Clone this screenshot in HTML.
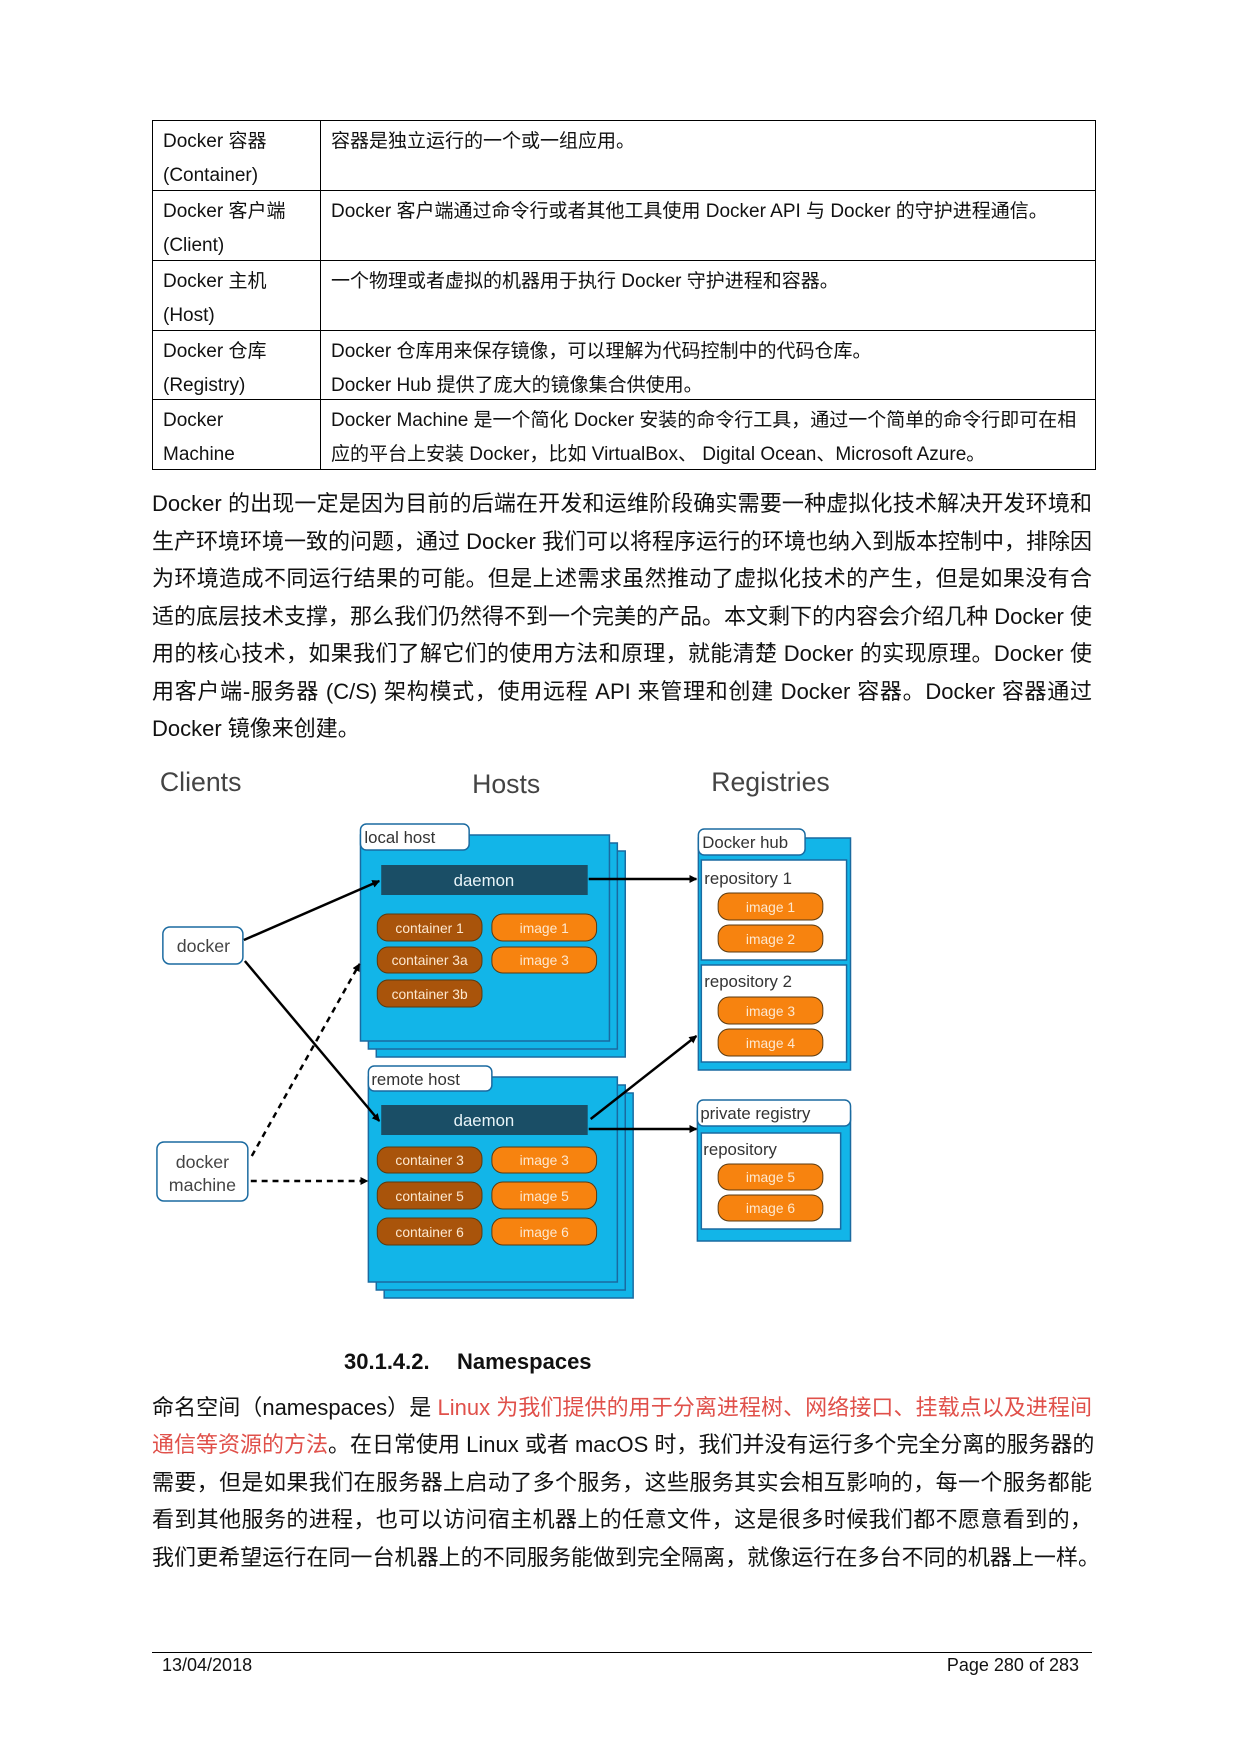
<!DOCTYPE html>
<html><head><meta charset="utf-8"><style>
body{margin:0;width:1240px;height:1754px;background:#fff;position:relative;font-family:"Liberation Sans","Noto Sans CJK SC",sans-serif;color:#111;overflow:hidden}
.a{position:absolute;white-space:nowrap}
table{position:absolute;left:152px;top:120px;width:944px;border-collapse:collapse;table-layout:fixed}
td{border:1.5px solid #000;vertical-align:top;font-size:19px;line-height:34px;padding:0 10px;height:68px;box-sizing:border-box}
td>div{position:relative;top:4px}
td.l{width:168px}
.p{position:absolute;left:152px;width:940px;font-size:22px;line-height:30px;text-align:justify;text-align-last:justify;white-space:nowrap}
.p.last{text-align-last:left}
.r{color:#e0504a}
</style></head><body>
<table>
<tr style="height:70px"><td class="l"><div>Docker 容器<br>(Container)</div></td><td><div>容器是独立运行的一个或一组应用。</div></td></tr>
<tr style="height:70px"><td class="l"><div>Docker 客户端<br>(Client)</div></td><td><div>Docker 客户端通过命令行或者其他工具使用 Docker API 与 Docker 的守护进程通信。</div></td></tr>
<tr style="height:70px"><td class="l"><div>Docker 主机<br>(Host)</div></td><td><div>一个物理或者虚拟的机器用于执行 Docker 守护进程和容器。</div></td></tr>
<tr style="height:69px"><td class="l"><div>Docker 仓库<br>(Registry)</div></td><td><div>Docker 仓库用来保存镜像，可以理解为代码控制中的代码仓库。<br>Docker Hub 提供了庞大的镜像集合供使用。</div></td></tr>
<tr style="height:70px"><td class="l"><div>Docker<br>Machine</div></td><td><div>Docker Machine 是一个简化 Docker 安装的命令行工具，通过一个简单的命令行即可在相<br>应的平台上安装 Docker，比如 VirtualBox、 Digital Ocean、Microsoft Azure。</div></td></tr>
</table>
<div class="p" style="top:489px">Docker 的出现一定是因为目前的后端在开发和运维阶段确实需要一种虚拟化技术解决开发环境和</div>
<div class="p" style="top:527px">生产环境环境一致的问题，通过 Docker 我们可以将程序运行的环境也纳入到版本控制中，排除因</div>
<div class="p" style="top:564px">为环境造成不同运行结果的可能。但是上述需求虽然推动了虚拟化技术的产生，但是如果没有合</div>
<div class="p" style="top:602px">适的底层技术支撑，那么我们仍然得不到一个完美的产品。本文剩下的内容会介绍几种 Docker 使</div>
<div class="p" style="top:639px">用的核心技术，如果我们了解它们的使用方法和原理，就能清楚 Docker 的实现原理。Docker 使</div>
<div class="p" style="top:677px">用客户端-服务器 (C/S) 架构模式，使用远程 API 来管理和创建 Docker 容器。Docker 容器通过</div>
<div class="p last" style="top:714px">Docker 镜像来创建。</div>

<svg class="a" style="left:0;top:0" width="1240" height="1754" viewBox="0 0 1240 1754" font-family="Liberation Sans, sans-serif">
<defs><marker id="ar" markerWidth="8" markerHeight="8" refX="7" refY="4" orient="auto" markerUnits="userSpaceOnUse"><path d="M0,0 L8,4 L0,8z" fill="#000"/></marker></defs>
<g transform="translate(152,0) scale(0.988,1) translate(-152,0)">
<g fill="#444" font-size="27"><text x="160" y="791">Clients</text><text x="476" y="793">Hosts</text><text x="718" y="791">Registries</text></g>
<g stroke="#1a6aa0" stroke-width="1.5" fill="#12b5e8">
<rect x="379" y="851" width="252" height="206"/><rect x="371" y="843" width="252" height="206"/><rect x="363" y="835" width="252" height="206"/>
<rect x="387" y="1093" width="252" height="205"/><rect x="379" y="1085" width="252" height="205"/><rect x="371" y="1077" width="252" height="205"/>
<rect x="705" y="838" width="154" height="232"/><rect x="704" y="1111" width="155" height="130"/>
</g>
<g fill="#fff" stroke="#1a6aa0" stroke-width="1.5">
<rect x="363" y="824" width="110" height="26" rx="6"/><rect x="371" y="1066" width="125" height="25" rx="6"/>
<rect x="705" y="829" width="108" height="26" rx="6"/><rect x="704" y="1100" width="155" height="26" rx="6"/>
<rect x="708" y="860" width="147" height="100"/><rect x="708" y="965" width="147" height="97"/><rect x="708" y="1133" width="141" height="96"/>
<rect x="163" y="927" width="81" height="37" rx="7"/><rect x="157" y="1142" width="92" height="59" rx="7"/>
</g>
<g fill="#333" font-size="17"><text x="367" y="843">local host</text><text x="374" y="1085">remote host</text><text x="709" y="848">Docker hub</text><text x="707" y="1119">private registry</text>
<text x="711" y="884">repository 1</text><text x="711" y="987">repository 2</text><text x="710" y="1155">repository</text></g>
<g fill="#444" font-size="18" text-anchor="middle"><text x="204" y="952">docker</text><text x="203" y="1168">docker</text><text x="203" y="1191">machine</text></g>
<rect x="384" y="865" width="209" height="30" fill="#1a4e66"/><rect x="384" y="1105" width="209" height="30" fill="#1a4e66"/>
<g fill="#e8f4f8" font-size="17" text-anchor="middle"><text x="488" y="886">daemon</text><text x="488" y="1126">daemon</text></g>
<g stroke="#5a3a10" stroke-width="1">
<g fill="#a9540b"><rect x="380" y="914" width="106" height="27" rx="11"/><rect x="380" y="947" width="106" height="26" rx="11"/><rect x="380" y="980" width="106" height="27" rx="11"/>
<rect x="380" y="1147" width="106" height="26" rx="11"/><rect x="380" y="1182" width="106" height="27" rx="11"/><rect x="380" y="1218" width="106" height="27" rx="11"/></g>
<g fill="#f7830f"><rect x="496" y="914" width="106" height="27" rx="11"/><rect x="496" y="947" width="106" height="26" rx="11"/>
<rect x="496" y="1147" width="106" height="26" rx="11"/><rect x="496" y="1182" width="106" height="27" rx="11"/><rect x="496" y="1218" width="106" height="27" rx="11"/>
<rect x="725" y="893" width="106" height="27" rx="11"/><rect x="725" y="925" width="106" height="27" rx="11"/><rect x="725" y="997" width="106" height="27" rx="11"/><rect x="725" y="1029" width="106" height="27" rx="11"/>
<rect x="725" y="1164" width="106" height="26" rx="11"/><rect x="725" y="1195" width="106" height="26" rx="11"/></g>
</g>
<g fill="#fde8d0" font-size="14" text-anchor="middle">
<text x="433" y="933">container 1</text><text x="433" y="965">container 3a</text><text x="433" y="999">container 3b</text>
<text x="433" y="1165">container 3</text><text x="433" y="1201">container 5</text><text x="433" y="1237">container 6</text>
<text x="549" y="933">image 1</text><text x="549" y="965">image 3</text><text x="549" y="1165">image 3</text><text x="549" y="1201">image 5</text><text x="549" y="1237">image 6</text>
<text x="778" y="912">image 1</text><text x="778" y="944">image 2</text><text x="778" y="1016">image 3</text><text x="778" y="1048">image 4</text><text x="778" y="1182">image 5</text><text x="778" y="1213">image 6</text>
</g>
<g stroke="#000" stroke-width="2.5" fill="none" marker-end="url(#ar)">
<line x1="245" y1="940" x2="382" y2="881"/><line x1="246" y1="961" x2="382" y2="1121"/>
<line x1="594" y1="879" x2="703" y2="879"/><line x1="596" y1="1119" x2="703" y2="1036"/><line x1="594" y1="1129" x2="703" y2="1129"/>
<line x1="253" y1="1156" x2="362" y2="964" stroke-dasharray="6,5"/><line x1="252" y1="1181" x2="370" y2="1181" stroke-dasharray="6,5"/>
</g>
</g>
</svg>

<div class="a" style="left:344px;top:1349px;font-size:22px;font-weight:bold">30.1.4.2.</div>
<div class="a" style="left:457px;top:1349px;font-size:22px;font-weight:bold">Namespaces</div>
<div class="p" style="top:1393px">命名空间（namespaces）是 <span class="r">Linux 为我们提供的用于分离进程树、网络接口、挂载点以及进程间</span></div>
<div class="p" style="top:1430px"><span class="r">通信等资源的方法</span>。在日常使用 Linux 或者 macOS 时，我们并没有运行多个完全分离的服务器的</div>
<div class="p" style="top:1468px">需要，但是如果我们在服务器上启动了多个服务，这些服务其实会相互影响的，每一个服务都能</div>
<div class="p" style="top:1505px">看到其他服务的进程，也可以访问宿主机器上的任意文件，这是很多时候我们都不愿意看到的，</div>
<div class="p" style="top:1543px;width:948px">我们更希望运行在同一台机器上的不同服务能做到完全隔离，就像运行在多台不同的机器上一样。</div>
<div class="a" style="left:152px;top:1652px;width:940px;height:1px;background:#000"></div>
<div class="a" style="left:162px;top:1655px;font-size:18px">13/04/2018</div>
<div class="a" style="right:161px;top:1655px;font-size:18px">Page 280 of 283</div>
</body></html>
